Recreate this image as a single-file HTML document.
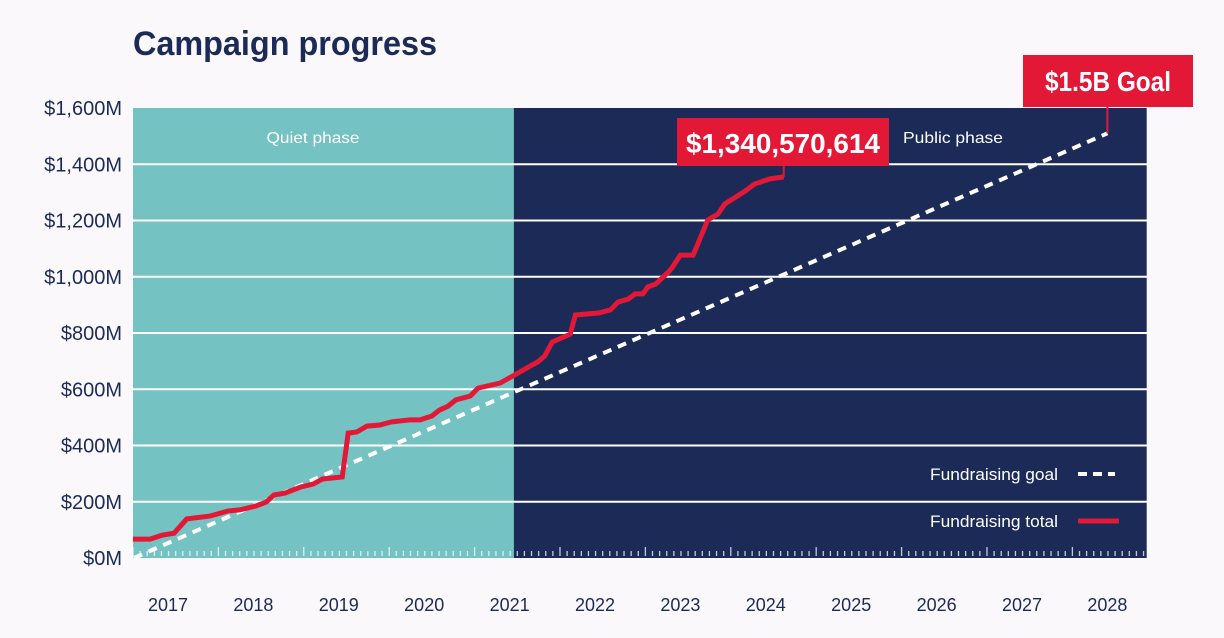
<!DOCTYPE html>
<html><head><meta charset="utf-8"><style>
html,body{margin:0;padding:0;background:#faf8fa;}
svg{display:block;font-family:"Liberation Sans",sans-serif;}
</style></head><body>
<svg id="chart" width="1224" height="638" viewBox="0 0 1224 638" xmlns="http://www.w3.org/2000/svg">
<rect x="0" y="0" width="1224" height="638" fill="#faf8fa"/>
<text x="133" y="55" font-size="34" font-weight="bold" fill="#1b2a56" textLength="304" lengthAdjust="spacingAndGlyphs">Campaign progress</text>
<g id="plot"></g>
</svg>
<script>
const yTicks=[0,200,400,600,800,1000,1200,1400,1600];
const yTickLabels=["$0M","$200M","$400M","$600M","$800M","$1,000M","$1,200M","$1,400M","$1,600M"];
const years=[2017,2018,2019,2020,2021,2022,2023,2024,2025,2026,2027,2028];
const totalT=[2016.59,2016.79,2016.93,2017.07,2017.22,2017.49,2017.70,2017.84,2018.03,2018.15,2018.24,2018.37,2018.55,2018.70,2018.81,2019.04,2019.11,2019.21,2019.33,2019.48,2019.62,2019.83,2019.95,2020.09,2020.18,2020.28,2020.37,2020.54,2020.63,2020.89,2021.06,2021.22,2021.33,2021.41,2021.50,2021.71,2021.77,2022.04,2022.18,2022.27,2022.39,2022.47,2022.56,2022.62,2022.71,2022.86,2022.90,2023.00,2023.15,2023.32,2023.44,2023.52,2023.76,2023.87,2024.05,2024.21];
const totalV=[67,67,81,88,139,149,167,171,185,199,224,231,252,263,281,288,444,448,469,473,484,491,491,505,526,540,562,576,604,622,651,679,697,718,768,796,864,871,882,910,921,939,939,964,974,1017,1031,1077,1077,1202,1223,1259,1305,1330,1348,1355];
const goalT=[2016.6,2028.0];
const goalV=[0,1510];
const phaseStart=[2016.59,2021.05];
const phaseEnd=[2021.05,2028.46];
const phaseNames=["Quiet phase","Public phase"];
const totalLabel="$1,340,570,614";
const goalLabel="$1.5B Goal";

const NS="http://www.w3.org/2000/svg";
const g=document.getElementById('plot');
const X0=133,X1=1147,Y0=558,Y1=108;
function x(t){return 168+(t-2017)*85.4;}
function y(v){return Y0-(v/1600)*(Y0-Y1);}
function mk(tag,attrs,parent){const e=document.createElementNS(NS,tag);for(const k in attrs)e.setAttribute(k,attrs[k]);(parent||g).appendChild(e);return e;}

const phaseColors=["#74c2c2","#1b2a56"];
phaseStart.forEach((s,i)=>{
  const r=mk('rect',{x:x(s),y:Y1,width:x(phaseEnd[i])-x(s),height:Y0-Y1,fill:phaseColors[i]});
  
  
});
// grid
yTicks.forEach((v,i)=>{
  if(v>0&&v<1600){
    const l=mk('line',{x1:X0,x2:X1,y1:y(v),y2:y(v),stroke:"#ffffff","stroke-width":2});
    
    
  }
  const t=mk('text',{x:122,y:y(v)+7,"text-anchor":"end","font-size":20,fill:"#1b2a56"});
  t.textContent=yTickLabels[i];
  
  
});
// month ticks
for(let m=0;;m++){
  const t=phaseStart[0]+m/12; const px=x(t); if(px>X1)break;
  const major=(m%12===12-5);
  const tk=mk('line',{x1:px,x2:px,y1:Y0-2,y2:Y0-2-(m%12===0?9:5),stroke:"rgba(255,255,255,0.75)","stroke-width":1.3});
  
  
}
years.forEach(yr=>{
  const t=mk('text',{x:x(yr),y:611,"text-anchor":"middle","font-size":18,fill:"#1b2a56"});
  t.textContent=yr;
  
  
});
// phase labels
[[313,"Quiet phase"],[953,"Public phase"]].forEach((p,i)=>{
  const t=mk('text',{x:p[0],y:143,"text-anchor":"middle","font-size":16,fill:"#ffffff",textLength:i?100:93,lengthAdjust:"spacingAndGlyphs"});
  t.textContent=phaseNames[i];
  
  
});
// goal line
const gp=mk('polyline',{points:goalT.map((t,i)=>x(t)+","+y(goalV[i])).join(" "),fill:"none",stroke:"#ffffff","stroke-width":4,"stroke-dasharray":"9,7"});


// total line
const tp=mk('polyline',{points:totalT.map((t,i)=>x(t)+","+y(totalV[i])).join(" "),fill:"none",stroke:"#e31837","stroke-width":5,"stroke-linejoin":"miter"});


// callouts
const lx=x(totalT[totalT.length-1]), ly=y(totalV[totalV.length-1]);
const c1=mk('line',{x1:lx,x2:lx,y1:ly,y2:160,stroke:"#e31837","stroke-width":2});


const b1=mk('rect',{x:677,y:118,width:212,height:48,fill:"#e31837"});


const t1=mk('text',{x:783,y:153,"text-anchor":"middle","font-size":28,"font-weight":"bold",fill:"#ffffff",textLength:194,lengthAdjust:"spacingAndGlyphs"});
t1.textContent=totalLabel;


const gx=x(goalT[1]), gy=y(goalV[1]);
const c2=mk('line',{x1:gx,x2:gx,y1:gy,y2:100,stroke:"#e31837","stroke-width":2});


const b2=mk('rect',{x:1023,y:55,width:170,height:52,fill:"#e31837"});


const t2=mk('text',{x:1108,y:91,"text-anchor":"middle","font-size":28,"font-weight":"bold",fill:"#ffffff",textLength:126,lengthAdjust:"spacingAndGlyphs"});
t2.textContent=goalLabel;


// legend
const lg1=mk('text',{x:1058,y:480,"text-anchor":"end","font-size":17,fill:"#ffffff",textLength:128,lengthAdjust:"spacingAndGlyphs"});
lg1.textContent="Fundraising goal";


const lgl1=mk('line',{x1:1078,x2:1115,y1:474,y2:474,stroke:"#ffffff","stroke-width":4,"stroke-dasharray":"9,6"});


const lg2=mk('text',{x:1058,y:527,"text-anchor":"end","font-size":17,fill:"#ffffff",textLength:128,lengthAdjust:"spacingAndGlyphs"});
lg2.textContent="Fundraising total";


const lgl2=mk('line',{x1:1078,x2:1119,y1:521,y2:521,stroke:"#e31837","stroke-width":5});


</script>
</body></html>
